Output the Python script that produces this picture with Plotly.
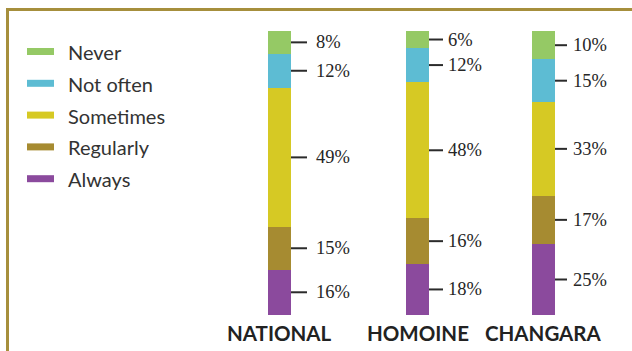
import plotly.graph_objects as go

# Survey responses by site (percent of respondents)
levels = ["Never", "Not often", "Sometimes", "Regularly", "Always"]
sites = ["NATIONAL", "HOMOINE", "CHANGARA"]
national = [8, 12, 49, 15, 16]
homoine = [6, 12, 48, 16, 18]
changara = [10, 15, 33, 17, 25]
site_values = [national, homoine, changara]

colors = {
    "Never": "#95c965",
    "Not often": "#5dbcd3",
    "Sometimes": "#d6c924",
    "Regularly": "#a68b31",
    "Always": "#8b4a9d",
}

W, H = 632, 351


def px(x):
    return x / W


def py(y):
    return 1 - y / H


# layout of each bar column: left/right edge in pixels, tick length, label offset
columns = [
    dict(left=268, right=291, tick=16, gap=24),
    dict(left=406, right=429, tick=14, gap=18),
    dict(left=532, right=555, tick=12, gap=17),
]
bar_top, bar_bottom = 31, 315

fig = go.Figure()
shapes = []
annotations = []

for k, (site, vals, col) in enumerate(zip(sites, site_values, columns)):
    suffix = "" if k == 0 else str(k + 1)
    xref, yref = "x" + suffix, "y" + suffix
    # stack from the bottom: Always first, Never on top
    cum = 0
    for level, v in reversed(list(zip(levels, vals))):
        fig.add_trace(go.Bar(
            x=[site], y=[v], name=level,
            marker=dict(color=colors[level], line=dict(width=0)),
            showlegend=False, hoverinfo="skip",
            xaxis=xref, yaxis=yref,
        ))
        mid = cum + v / 2
        cum += v
        # short leader tick from the bar edge to the label
        shapes.append(dict(
            type="line", xref="paper", yref=yref,
            x0=px(col["right"]), x1=px(col["right"] + col["tick"]),
            y0=mid, y1=mid,
            line=dict(color="#2b2b2b", width=2),
        ))
        annotations.append(dict(
            xref="paper", yref=yref, x=px(col["right"] + col["gap"] - 1), y=mid,
            xanchor="left", yanchor="middle",
            text=f"{v}%", showarrow=False,
            font=dict(family="Liberation Serif", size=18.5, color="#262626"),
        ))
    axis_x = dict(domain=[px(col["left"]), px(col["right"])], range=[-0.5, 0.5],
                  visible=False, fixedrange=True)
    axis_y = dict(domain=[py(bar_bottom), py(bar_top)], range=[0, 100],
                  visible=False, fixedrange=True)
    if k > 0:
        axis_x["anchor"] = yref
        axis_y["anchor"] = xref
    fig.update_layout(**{"xaxis" + suffix: axis_x, "yaxis" + suffix: axis_y})
    # site name under the bar
    annotations.append(dict(
        xref="paper", yref="paper",
        x=px((col["left"] + col["right"]) / 2), y=py(333),
        xanchor="center", yanchor="middle", text=site, showarrow=False,
        font=dict(family="Lato", size=20.5, color="#222222", weight="bold"),
    ))

# legend drawn as swatches with labels
for i, level in enumerate(levels):
    yc = 51.5 + 31.8 * i
    shapes.append(dict(
        type="rect", xref="paper", yref="paper",
        x0=px(27), x1=px(54), y0=py(yc + 3.5), y1=py(yc - 3.5),
        fillcolor=colors[level], line=dict(width=0),
    ))
    annotations.append(dict(
        xref="paper", yref="paper", x=px(66), y=py(yc + 0.5),
        xanchor="left", yanchor="middle", text=level, showarrow=False,
        font=dict(family="Lato", size=20, color="#333333"),
    ))

# frame along the top and left edges
frame = "#a68f3c"
shapes.append(dict(type="line", xref="paper", yref="paper",
                   x0=px(6), x1=1.02, y0=py(9.5), y1=py(9.5),
                   line=dict(color=frame, width=3)))
shapes.append(dict(type="line", xref="paper", yref="paper",
                   x0=px(7.5), x1=px(7.5), y0=py(8), y1=-0.02,
                   line=dict(color=frame, width=3)))

fig.update_layout(
    width=W, height=H,
    margin=dict(l=0, r=0, t=0, b=0),
    paper_bgcolor="white", plot_bgcolor="white",
    barmode="stack", bargap=0,
    shapes=shapes, annotations=annotations,
    showlegend=False,
)

fig.write_html("out.html", config={"displayModeBar": False})
